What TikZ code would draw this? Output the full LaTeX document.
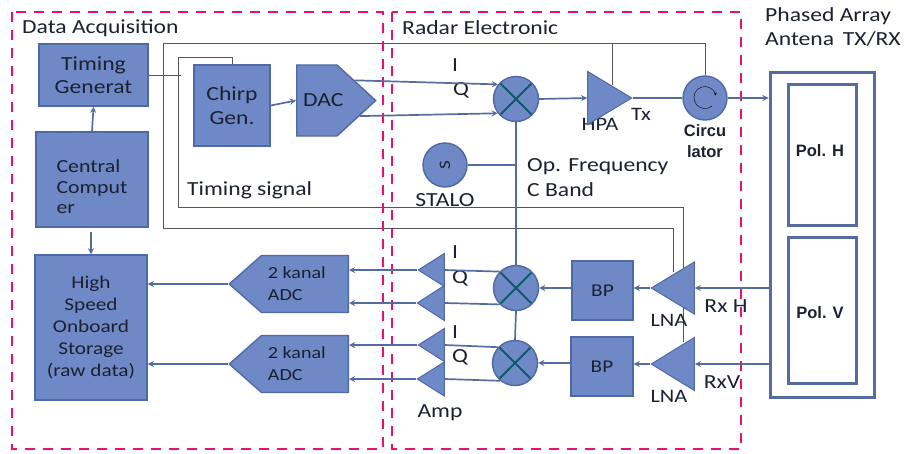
\documentclass[tikz,border=0pt]{standalone}
\usepackage{fontspec}
\setmainfont[FakeStretch=1.18]{Carlito}
\newfontfamily\polfont{Liberation Sans}
\usetikzlibrary{shapes.geometric,shapes.symbols,backgrounds}
\definecolor{blockfill}{HTML}{6F88C6}
\definecolor{blockline}{HTML}{4F68A6}
\definecolor{wireblue}{HTML}{566B9E}
\definecolor{panelpink}{HTML}{EC0F72}
\definecolor{crossteal}{HTML}{0E5A66}
\definecolor{inktext}{HTML}{1B2130}
\definecolor{timingline}{HTML}{555555}
\newcommand{\adclabel}{\makebox[0pt][l]{\hspace{-37pt}2 kanal}\\\makebox[0pt][l]{\hspace{-37pt}ADC}}
\tikzset{
    every node/.style={text=inktext},
    blockbox/.style={rectangle, draw=blockline, fill=blockfill, line width=1.4pt, inner sep=0pt, font=\fontsize{20}{23.5}\selectfont, align=center},
    mixer/.style={circle, draw=blockline, fill=blockfill, line width=1.4pt, inner sep=0pt, minimum size=45pt,
        path picture={\draw[crossteal, line width=1.8pt]
            (path picture bounding box.north west) -- (path picture bounding box.south east)
            (path picture bounding box.north east) -- (path picture bounding box.south west);}},
    roundblock/.style={circle, draw=blockline, fill=blockfill, line width=1.4pt, inner sep=0pt, minimum size=44pt},
    amptri/.style={isosceles triangle, isosceles triangle stretches, shape border rotate=180, draw=blockline, fill=blockfill,
        line width=1pt, inner sep=0pt, anchor=apex},
    adcsignal/.style={signal, signal from=nowhere, signal to=west, signal pointer angle=83, draw=blockline, fill=blockfill,
        line width=1.4pt, inner sep=0pt, font=\fontsize{17}{22}\selectfont, align=left, minimum width=119pt, minimum height=57pt, anchor=east},
    wire/.style={draw=wireblue, line width=1.7pt},
    arrowwire/.style={wire, -stealth},
    timingwire/.style={draw=timingline, line width=1pt},
    panel/.style={draw=panelpink, line width=2.4pt, dash pattern=on 10pt off 8pt},
    antennabox/.style={rectangle, draw=wireblue, fill=white, line width=3pt, inner sep=0pt},
    caption/.style={font=\fontsize{20}{24.5}\selectfont, align=left, inner sep=0pt},
    boldcaption/.style={font=\polfont\bfseries\fontsize{16.5}{21}\selectfont, align=center, inner sep=0pt}
}

\begin{document}
\begin{tikzpicture}[x=1pt,y=-1pt]
        \useasboundingbox (0,0) rectangle (907,453);
        \draw[panel] (12,12) rectangle (383,449);
        \draw[panel] (392,12) rectangle (741,449);
        \node[caption, anchor=west] (dataacq) at (22,28) {Data Acquisition};
        \node[caption, anchor=west] (radarel) at (402,28) {Radar Electronic};
        \node[caption, anchor=west] (phased) at (765,27) {Phased Array\\Antena\, TX/RX};

        \node[blockbox, minimum width=109pt, minimum height=62pt] (timing) at (93.5,75) {Timing\\Generat};
        \node[blockbox, minimum width=112pt, minimum height=95pt, align=left, font=\fontsize{18.5}{20.5}\selectfont] (central) at (92,179.5) {\rule{0pt}{28pt}Central\\Comput\hspace*{10pt}\\er};
        \node[blockbox, minimum width=112pt, minimum height=145pt, font=\fontsize{18}{22}\selectfont] (storage) at (91,327.5) {High\\Speed\\Onboard\\Storage\\(raw data)};
        \node[blockbox, minimum width=76pt, minimum height=81pt] (chirp) at (232,105.5) {Chirp\\Gen.};
        \node[signal, signal from=nowhere, signal to=east, signal pointer angle=85, draw=blockline, fill=blockfill, line width=1.4pt,
            inner sep=0pt, font=\fontsize{20}{23}\selectfont, minimum width=79pt, minimum height=71pt, anchor=west] (dac) at (296,100.5) {\makebox[0pt]{\hspace{13pt}DAC}};

        \node[mixer] (mixtx) at (516,99) {};
        \node[mixer] (mixh) at (516,288) {};
        \node[mixer] (mixv) at (515,363) {};
        \node[caption, anchor=center, font=\fontsize{19}{20}\selectfont] (hpalabel) at (600,124) {HPA};
        \node[amptri, shape border rotate=0, minimum width=53pt, minimum height=44pt] (hpa) at (633,98) {};
        \node[roundblock] (circ) at (705,98) {};
        \draw[-stealth, thin, black] ([shift={(7,8)}]circ.center) arc [start angle=50, end angle=350, radius=11];
        \node[roundblock] (stalo) at (445,165) {\rotatebox{90}{\fontsize{16}{16}\selectfont S}};

        \node[adcsignal] (adca) at (349,284) {\adclabel};
        \node[adcsignal] (adcb) at (349,364) {\adclabel};

        \node[amptri, minimum width=33pt, minimum height=26pt] (ampa) at (417,270) {};
        \node[amptri, minimum width=35pt, minimum height=27pt] (ampb) at (416,303) {};
        \node[amptri, minimum width=33pt, minimum height=26pt] (ampc) at (417,345) {};
        \node[amptri, minimum width=34pt, minimum height=27pt] (ampd) at (416,379) {};

        \node[blockbox, minimum width=61pt, minimum height=59pt, font=\fontsize{18}{22}\selectfont] (bph) at (602.5,290.5) {BP};
        \node[blockbox, minimum width=62pt, minimum height=59pt, font=\fontsize{18}{22}\selectfont] (bpv) at (602,366.5) {BP};
        \node[amptri, minimum width=52pt, minimum height=43pt] (lnah) at (650,288) {};
        \node[amptri, minimum width=53pt, minimum height=43pt] (lnav) at (650,364) {};

        \node[antennabox, minimum width=104pt, minimum height=325pt] (antenna) at (822,234.5) {};
        \node[antennabox, minimum width=68pt, minimum height=141pt, boldcaption] (polh) at (822,154.5) {\raisebox{8pt}{Pol. H}\hspace*{4pt}};
        \node[antennabox, minimum width=68pt, minimum height=146pt, boldcaption] (polv) at (822,310) {\raisebox{-18pt}{Pol. V}\hspace*{4pt}};

        \foreach \x/\y/\t [count=\i] in {455/65/I,461/90/Q,455/252/I,460/278/Q,455/332/I,460/357/Q}
        \node[caption, anchor=center] (iq\i) at (\x,\y) {\t};
        \node[caption, anchor=west] (timinglabel) at (187,190) {Timing signal};
        \node[caption, anchor=west] (opfreq) at (527,177.5) {Op. Frequency\\C Band};
        \node[caption, anchor=center, font=\fontsize{19}{20}\selectfont] (txlabel) at (641,114) {Tx};
        \node[boldcaption] (circlabel) at (705,141.5) {Circu\\lator};
        \node[caption, anchor=center] (stalolabel) at (445,200) {STALO};
        \node[caption, anchor=center] (rxh) at (726,306) {Rx H};
        \node[caption, anchor=center] (rxv) at (722,382) {RxV};
        \node[caption, anchor=center, font=\fontsize{19}{20}\selectfont] (lnahlabel) at (669,320) {LNA};
        \node[caption, anchor=center, font=\fontsize{19}{20}\selectfont] (lnavlabel) at (669,396) {LNA};
        \node[caption, anchor=center] (amplabel) at (440,413) {Amp};

        \coordinate (timingend) at (181,75);
        \coordinate (hpatop) at (612,85);
        \coordinate (outerjoin) at (612,43);
        \coordinate (lnahtop) at (673,272);
        \coordinate (lnavtop) at (683,342);
        \coordinate (chirptop) at (232,65);

        \begin{scope}[on background layer]
        \draw[timingwire] (timing.east) -- (timingend);
        \draw[timingwire] (circ.north) |- (outerjoin) -- (hpatop);
        \draw[timingwire] (outerjoin) -- (163,43) -- (163,228) -- (673,228) -- (lnahtop);
        \draw[timingwire] (chirptop) -- (232,57) -- (178,57) -- (178,207) -- (683,207) -- (lnavtop);
        \draw[wire] (stalo.east) -- (516,165);
        \draw[wire] (mixtx.south) -- (mixh.north);
        \draw[wire] (mixh.south) -- (mixv.north);
        \end{scope}

        \draw[arrowwire] (central.north) -- (timing.south);
        \draw[arrowwire] (central.south -| storage.north) ++(0,4) -- (storage.north);
        \draw[arrowwire] (chirp.east) -- (dac.west);
        \draw[arrowwire] (dac.28) -- (mixtx.141);
        \draw[arrowwire] (dac.-20) -- (mixtx.218);
        \draw[arrowwire] (mixtx.east) -- (hpa.lower side);
        \draw[wire] (hpa.apex) -- (circ.west);
        \draw[arrowwire] (circ.east) -- (antenna.west |- circ.east);

        \draw[wire] (mixh.135) -- (ampa.lower side);
        \draw[wire] (mixh.225) -- (ampb.lower side);
        \draw[wire] (mixv.137) -- (ampc.lower side);
        \draw[wire] (mixv.230) -- (ampd.lower side);
        \draw[arrowwire] (ampa.apex) -- (ampa.apex -| adca.east);
        \draw[arrowwire] (ampb.apex) -- (ampb.apex -| adca.east);
        \draw[arrowwire] (ampc.apex) -- (ampc.apex -| adcb.east);
        \draw[arrowwire] (ampd.apex) -- (ampd.apex -| adcb.east);
        \draw[arrowwire] (adca.west) -- (storage.east |- adca.west);
        \draw[arrowwire] (adcb.west) -- (storage.east |- adcb.west);

        \draw[arrowwire] (bph.west |- mixh.east) -- (mixh.east);
        \draw[arrowwire] (bpv.west |- mixv.east) -- (mixv.east);
        \draw[arrowwire] (lnah.apex) -- (lnah.apex -| bph.east);
        \draw[arrowwire] (lnav.apex) -- (lnav.apex -| bpv.east);
        \draw[arrowwire] (antenna.west |- lnah.lower side) -- (lnah.lower side);
        \draw[arrowwire] (antenna.west |- lnav.lower side) -- (lnav.lower side);
    \end{tikzpicture}
\end{document}
